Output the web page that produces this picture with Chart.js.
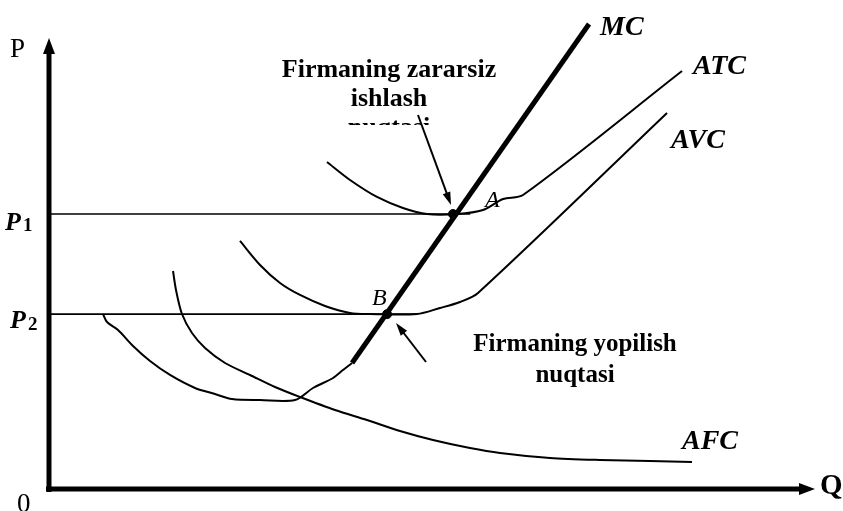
<!DOCTYPE html>
<html>
<head>
<meta charset="utf-8">
<script src="https://cdn.jsdelivr.net/npm/chart.js@4"></script>
<style>
    html, body { margin: 0; padding: 0; background: #fff; }
</style>
</head>
<body>
<canvas id="costChart" width="843" height="511"></canvas>
<script>
// price levels
const p1Level = 58.5;
const p2Level = 37.2;
const p1LineX = [0, 55];
const p2LineX = [0, 48];

// MC: thin lower part, then thick rising part
const mcLowX = [7.05, 7.57, 9.01, 10.97, 13.19, 15.80, 19.06, 21.67, 23.89, 27.55, 32.11, 34.46, 37.08, 38.38, 39.56];
const mcLowY = [37.23, 35.53, 33.83, 30.43, 27.23, 24.26, 21.49, 20.21, 19.15, 18.94, 18.94, 21.49, 23.62, 25.32, 26.81];
const mcHighX = [39.56, 70.50];
const mcHighY = [26.81, 98.94];

const atcX = [36.29, 39.30, 42.82, 46.21, 49.35, 53.26, 56.66, 59.27, 61.88, 82.64];
const atcY = [69.57, 65.74, 62.13, 59.79, 58.51, 58.51, 59.36, 61.70, 62.55, 88.94];

const avcX = [24.93, 27.55, 30.16, 32.77, 36.03, 39.30, 41.91, 48.04, 51.04, 53.66, 56.01, 80.68];
const avcY = [52.77, 47.66, 43.83, 41.28, 38.94, 37.45, 37.23, 37.23, 38.51, 39.79, 41.70, 80.00];

const afcX = [16.19, 16.58, 17.36, 18.67, 20.37, 22.98, 26.24, 29.50, 32.77, 37.34, 41.51, 45.82, 50.13, 54.96, 58.88, 65.40, 71.93, 78.46, 83.94];
const afcY = [46.38, 42.34, 37.23, 33.19, 30.00, 26.81, 24.26, 21.70, 19.57, 16.81, 14.68, 12.34, 10.43, 8.72, 7.66, 6.60, 6.17, 5.96, 5.74];

// points A and B
const keyX = [52.74, 44.13];
const keyY = [p1Level, p2Level];

function toPoints(xs, ys) {
    return xs.map((x, i) => ({ x: x, y: ys[i] }));
}

const serif = "'Liberation Serif', 'Times New Roman', serif";

function arrow(ctx, x1, y1, x2, y2, width, headLen, headHalf) {
    const ang = Math.atan2(y2 - y1, x2 - x1);
    ctx.lineWidth = width;
    ctx.beginPath();
    ctx.moveTo(x1, y1);
    ctx.lineTo(x2 - Math.cos(ang) * headLen * 0.8, y2 - Math.sin(ang) * headLen * 0.8);
    ctx.stroke();
    ctx.beginPath();
    ctx.moveTo(x2, y2);
    ctx.lineTo(x2 - Math.cos(ang) * headLen - Math.sin(ang) * headHalf,
               y2 - Math.sin(ang) * headLen + Math.cos(ang) * headHalf);
    ctx.lineTo(x2 - Math.cos(ang) * headLen + Math.sin(ang) * headHalf,
               y2 - Math.sin(ang) * headLen - Math.cos(ang) * headHalf);
    ctx.closePath();
    ctx.fill();
}

const decor = {
    id: "decor",
    afterDatasetsDraw(chart) {
        const ctx = chart.ctx;
        const xs = chart.scales.x;
        const ys = chart.scales.y;
        const ox = xs.getPixelForValue(0);
        const oy = ys.getPixelForValue(0);
        ctx.save();
        ctx.fillStyle = "#000";
        ctx.strokeStyle = "#000";

        // axes
        arrow(ctx, ox, oy + 3, ox, 38, 5, 16, 6);
        arrow(ctx, ox - 3, oy, 815, oy, 5, 16, 6);

        // annotation arrows
        arrow(ctx, xs.getPixelForValue(48.17), ys.getPixelForValue(79.57),
              xs.getPixelForValue(52.48), ys.getPixelForValue(60.43), 2, 13, 4);
        arrow(ctx, xs.getPixelForValue(49.22), ys.getPixelForValue(27.02),
              xs.getPixelForValue(45.30), ys.getPixelForValue(35.32), 2, 13, 4);

        ctx.textBaseline = "alphabetic";
        ctx.textAlign = "left";

        ctx.font = "27px " + serif;
        ctx.fillText("P", 10, 57);
        ctx.fillText("0", 17, 512);

        ctx.font = "bold 29px " + serif;
        ctx.fillText("Q", 820, 494);

        ctx.font = "italic bold 26px " + serif;
        ctx.fillText("P", 5, 230);
        ctx.fillText("P", 10, 328);
        ctx.font = "bold 19px " + serif;
        ctx.fillText("1", 23, 231);
        ctx.fillText("2", 28, 330);

        ctx.font = "italic bold 28px " + serif;
        ctx.fillText("MC", 600, 35);
        ctx.fillText("ATC", 693, 74);
        ctx.fillText("AVC", 671, 148);
        ctx.fillText("AFC", 682, 449);

        ctx.font = "italic 24px " + serif;
        ctx.fillText("A", 485, 207);
        ctx.fillText("B", 372, 305);

        ctx.textAlign = "center";
        ctx.font = "bold 26px " + serif;
        ctx.fillText("Firmaning zararsiz", 389, 77);
        ctx.fillText("ishlash", 389, 106);
        ctx.save();
        ctx.beginPath();
        ctx.rect(300, 110, 180, 15);
        ctx.clip();
        ctx.fillText("nuqtasi", 389, 135);
        ctx.restore();

        ctx.font = "bold 25px " + serif;
        ctx.fillText("Firmaning yopilish", 575, 351);
        ctx.fillText("nuqtasi", 575, 382);

        ctx.restore();
    }
};

const curve = { showLine: true, pointRadius: 0, borderColor: "#000", backgroundColor: "#000", fill: false };

new Chart(document.getElementById("costChart"), {
    type: "scatter",
    data: {
        datasets: [
            Object.assign({}, curve, { label: "P1", data: toPoints(p1LineX, [p1Level, p1Level]), borderWidth: 1.6 }),
            Object.assign({}, curve, { label: "P2", data: toPoints(p2LineX, [p2Level, p2Level]), borderWidth: 1.6 }),
            Object.assign({}, curve, { label: "ATC", data: toPoints(atcX, atcY), borderWidth: 2, tension: 0.3 }),
            Object.assign({}, curve, { label: "AVC", data: toPoints(avcX, avcY), borderWidth: 2, tension: 0.3 }),
            Object.assign({}, curve, { label: "AFC", data: toPoints(afcX, afcY), borderWidth: 2, tension: 0.3 }),
            Object.assign({}, curve, { label: "MC low", data: toPoints(mcLowX, mcLowY), borderWidth: 2, tension: 0.3 }),
            Object.assign({}, curve, { label: "MC", data: toPoints(mcHighX, mcHighY), borderWidth: 5 }),
            { label: "A B", data: toPoints(keyX, keyY), pointRadius: 4.5, backgroundColor: "#000", borderColor: "#000" }
        ]
    },
    options: {
        responsive: false,
        animation: false,
        layout: { padding: { left: 49, right: 28, top: 19, bottom: 22 } },
        plugins: { legend: { display: false }, tooltip: { enabled: false } },
        scales: {
            x: { type: "linear", min: 0, max: 100, display: false },
            y: { type: "linear", min: 0, max: 100, display: false }
        }
    },
    plugins: [decor]
});
</script>
</body>
</html>
